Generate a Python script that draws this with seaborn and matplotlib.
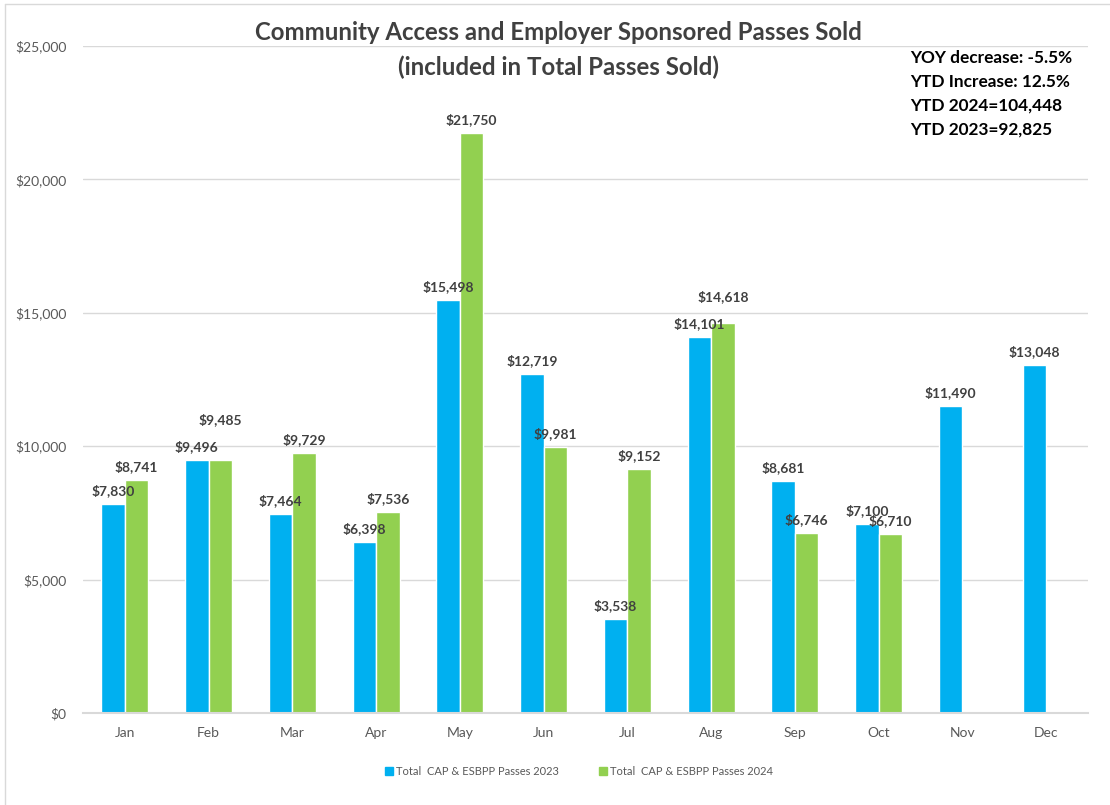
import numpy as np
import pandas as pd
import matplotlib
matplotlib.use("Agg")
import matplotlib.pyplot as plt
from matplotlib.lines import Line2D
import seaborn as sns

months = ["Jan", "Feb", "Mar", "Apr", "May", "Jun", "Jul", "Aug", "Sep", "Oct", "Nov", "Dec"]
passes_2023 = [7830, 9496, 7464, 6398, 15498, 12719, 3538, 14101, 8681, 7100, 11490, 13048]
passes_2024 = [8741, 9485, 9729, 7536, 21750, 9981, 9152, 14618, 6746, 6710, np.nan, np.nan]
series_names = ["Total  CAP & ESBPP Passes 2023", "Total  CAP & ESBPP Passes 2024"]
summary_lines = ["YOY decrease: -5.5%", "YTD Increase: 12.5%", "YTD 2024=104,448", "YTD 2023=92,825"]

# extra lift (in data units) for a few crowded labels
label_lift_2024 = {"Feb": 1000, "Aug": 500}

BLUE = "#00B0F0"
GREEN = "#92D050"
TEXT = "#404040"
TICK = "#595959"

sns.set_theme(style="white")
plt.rcParams["font.family"] = ["Lato", "DejaVu Sans"]

df = pd.DataFrame({
    "month": months * 2,
    "value": passes_2023 + passes_2024,
    "series": [series_names[0]] * 12 + [series_names[1]] * 12,
})

fig = plt.figure(figsize=(11.1, 8.05), dpi=100)
ax = fig.add_axes([83 / 1110, 1 - 713 / 805, (1088 - 83) / 1110, (713 - 46) / 805])

sns.barplot(data=df, x="month", y="value", hue="series", order=months,
            hue_order=series_names, palette=[BLUE, GREEN], saturation=1, width=0.56,
            edgecolor="white", linewidth=1.0, ax=ax, legend=False)

ax.set_ylim(0, 25000)
ax.set_xlim(-0.5, 11.5)
ax.set_yticks(np.arange(0, 25001, 5000))
ax.set_yticklabels([f"${v:,.0f}" for v in np.arange(0, 25001, 5000)])
ax.yaxis.grid(True, color="#D9D9D9", linewidth=1)
ax.set_axisbelow(True)
for s in ["top", "right", "left"]:
    ax.spines[s].set_visible(False)
ax.spines["bottom"].set_color("#D9D9D9")
ax.spines["bottom"].set_linewidth(1.5)
ax.tick_params(axis="both", length=0, labelsize=10, labelcolor=TICK)
ax.tick_params(axis="x", pad=10)
ax.tick_params(axis="y", pad=12)
ax.set_xlabel("")
ax.set_ylabel("")

# value labels above each bar
for cont, vals, key in zip(ax.containers, [passes_2023, passes_2024], ["2023", "2024"]):
    for bar, v, m in zip(cont.patches, vals, months):
        if np.isnan(v):
            continue
        lift = label_lift_2024.get(m, 0) if key == "2024" else 0
        ax.text(bar.get_x() + bar.get_width() / 2, v + 500 + lift, f"${v:,.0f}",
                ha="center", va="center", fontsize=10, fontweight="bold", color=TEXT)

fig.text(558 / 1110, 1 - 33 / 805, "Community Access and Employer Sponsored Passes Sold",
         ha="center", va="center", fontsize=17.3, fontweight="bold", color=TEXT)
fig.text(558 / 1110, 1 - 67 / 805, "(included in Total Passes Sold)",
         ha="center", va="center", fontsize=17.3, fontweight="bold", color=TEXT)

for i, line in enumerate(summary_lines):
    fig.text(910 / 1110, 1 - (58 + 24 * i) / 805, line, ha="left", va="center",
             fontsize=12.4, fontweight="bold", color="black")

handles = [Line2D([0], [0], marker="s", linestyle="", markersize=6,
                  markerfacecolor=c, markeredgecolor=c) for c in [BLUE, GREEN]]
fig.legend(handles, series_names, loc="center", bbox_to_anchor=(578 / 1110, 1 - 771 / 805),
           ncol=2, frameon=False, fontsize=8, labelcolor=TICK, handletextpad=0.1,
           columnspacing=3.5, handlelength=1)

# thin frame on the left and top edge of the figure
fig.add_artist(Line2D([5 / 1110, 5 / 1110], [0, 1 - 4 / 805], color="#D9D9D9", lw=1,
                      transform=fig.transFigure))
fig.add_artist(Line2D([5 / 1110, 1], [1 - 4 / 805, 1 - 4 / 805], color="#D9D9D9", lw=1,
                      transform=fig.transFigure))

fig.savefig("out.png", dpi=100, facecolor="white")
